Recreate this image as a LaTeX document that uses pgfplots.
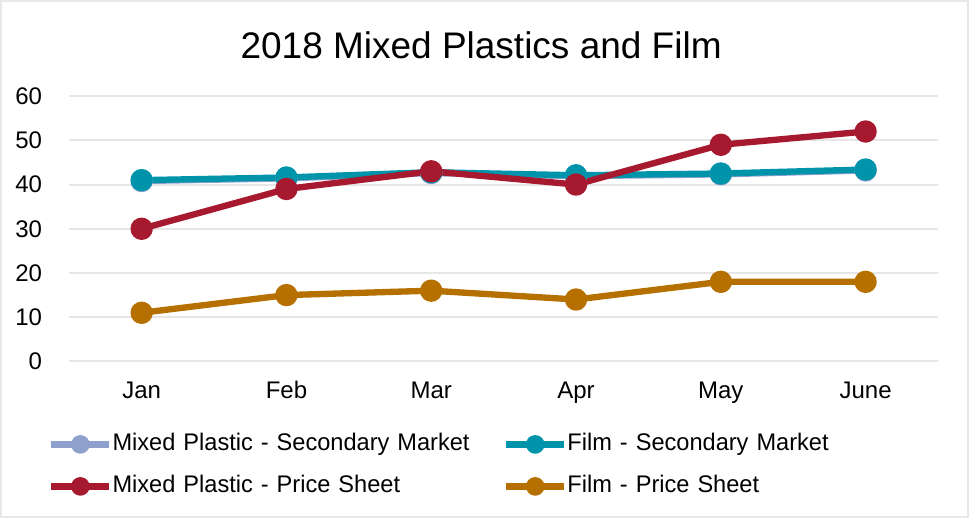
\documentclass[border=0pt]{standalone}
\usepackage{pgfplots}
\pgfplotsset{compat=1.18}
\usepackage{fontspec}
\setmainfont{Liberation Sans}
\newfontfamily\legfont[FakeStretch=0.983]{Liberation Sans}
\definecolor{mpsm}{RGB}{143,160,204}
\definecolor{fsm}{RGB}{0,148,170}
\definecolor{mpps}{RGB}{166,25,46}
\definecolor{fps}{RGB}{181,112,0}
\definecolor{gridc}{RGB}{230,230,230}
\begin{document}
\begin{tikzpicture}[x=0.75pt,y=0.75pt]
\path (0,0) rectangle (970,518);
\draw[gray!18, line width=1.5pt] (0.75,1.5) rectangle (967.5,517.5);
\node[font=\fontsize{27.75}{33}\selectfont, inner sep=0pt] at (481,473) {2018 Mixed Plastics and Film};
\begin{axis}[
  at={(51.75pt,117.75pt)}, anchor=south west,
  scale only axis, width=651.75pt, height=199pt,
  xmin=-0.5, xmax=5.5, ymin=0, ymax=60,
  xtick={0,1,2,3,4,5}, xticklabels={Jan,Feb,Mar,Apr,May,June},
  ytick={0,10,20,30,40,50,60},
  axis line style={draw=none},
  major tick length=0pt, tick style={draw=none},
  ymajorgrids, grid style={gridc, line width=1.5pt},
  tick label style={font=\fontsize{18}{21}\selectfont},
  /pgf/number format/assume math mode=true,
  yticklabel style={anchor=east, inner xsep=0pt, xshift=-20.25pt},
  xticklabel style={anchor=base, inner ysep=0pt, yshift=-28.2pt},
  clip=false,
  legend columns=2,
  legend style={at={(axis description cs:-0.0242,-0.2702)}, anchor=north west,
    draw=none, fill=none, inner sep=0pt, outer sep=0pt, row sep=14.5pt, column sep=0pt,
    font=\legfont\fontsize{18}{21}\selectfont,
    nodes={inner xsep=0pt, inner ysep=0pt, text height=13pt, text depth=4pt, text width=293pt, align=left}},
  legend cell align=left,
  legend image code/.code={\draw[mark repeat=2,mark phase=2, mark size=4.6pt] plot coordinates {(0pt,0pt) (21.75pt,0pt) (43.5pt,0pt)};},
  every axis plot/.append style={line width=4.75pt, mark=*, mark size=6pt, line join=round},
]
\addplot[color=mpsm, mark options={fill=mpsm, draw=none}] coordinates {(0,40.8) (1,41.4) (2,42.6) (3,41.9) (4,42.3) (5,43.2)};
\addlegendentry{Mixed Plastic - Secondary Market}
\addplot[color=fsm, mark options={fill=fsm, draw=none}] coordinates {(0,41) (1,41.6) (2,42.8) (3,42.1) (4,42.5) (5,43.4)};
\addlegendentry{Film - Secondary Market}
\addplot[color=mpps, mark options={fill=mpps, draw=none}] coordinates {(0,30) (1,39) (2,43) (3,40) (4,49) (5,52)};
\addlegendentry{Mixed Plastic - Price Sheet}
\addplot[color=fps, mark options={fill=fps, draw=none}] coordinates {(0,11) (1,15) (2,16) (3,14) (4,18) (5,18)};
\addlegendentry{Film - Price Sheet}
\end{axis}
\end{tikzpicture}
\end{document}
